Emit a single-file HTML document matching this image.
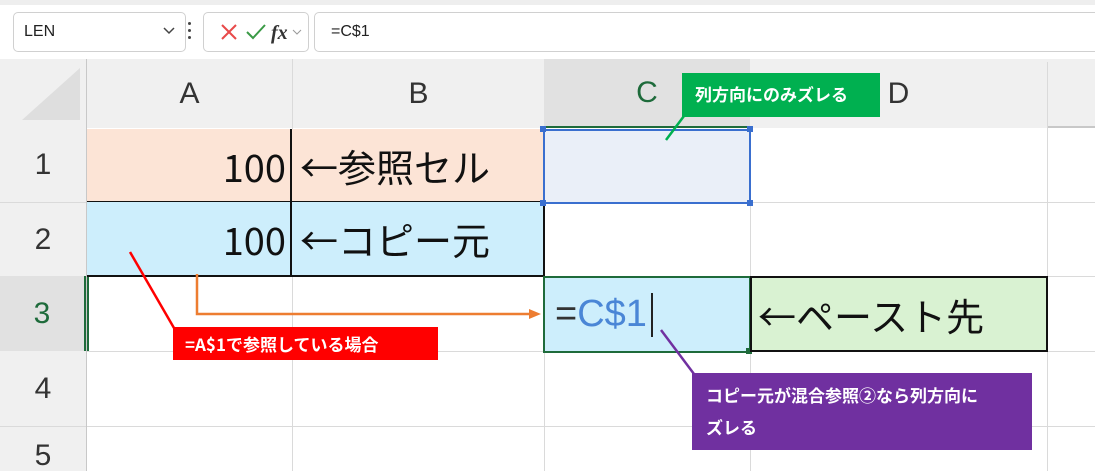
<!DOCTYPE html>
<html><head><meta charset="utf-8"><style>
*{margin:0;padding:0;box-sizing:border-box}
html,body{width:1095px;height:471px;overflow:hidden}
body{position:relative;background:#fff;font-family:"Liberation Sans","Noto Sans CJK JP",sans-serif}
.a{position:absolute}
.hd{background:#f0f0f0;color:#333;font-size:30px;display:flex;align-items:center;justify-content:center}
.ct{font-size:38px;color:#111;display:flex;align-items:center;font-family:"Noto Sans CJK JP",sans-serif;font-weight:400}
.vl{position:absolute;width:1px;background:#dadada}
.hl{position:absolute;height:1px;background:#dadada}
.lab{position:absolute;color:#fff;font-weight:bold;font-size:17px;font-family:"Noto Sans CJK JP",sans-serif}
</style></head><body>
<div class="a" style="left:0;top:0;width:1095px;height:5px;background:#eeeeee"></div>
<div class="a" style="left:13px;top:12px;width:173px;height:40px;border:1px solid #d0d0d0;border-radius:5px;font-size:16px;padding:10px 0 0 10px;color:#222">LEN</div>
<svg class="a" style="left:162px;top:26px" width="14" height="10"><polyline points="2,2 7,7 12,2" fill="none" stroke="#444" stroke-width="1.5"/></svg>
<div class="a" style="left:188px;top:22px;width:3px;height:3px;background:#444;border-radius:50%"></div>
<div class="a" style="left:188px;top:29px;width:3px;height:3px;background:#444;border-radius:50%"></div>
<div class="a" style="left:188px;top:36px;width:3px;height:3px;background:#444;border-radius:50%"></div>
<div class="a" style="left:203px;top:12px;width:106px;height:40px;border:1px solid #d0d0d0;border-radius:5px"></div>
<svg class="a" style="left:203px;top:12px" width="106" height="40">
<line x1="19" y1="13" x2="33" y2="27" stroke="#e84a4a" stroke-width="2"/>
<line x1="33" y1="13" x2="19" y2="27" stroke="#e84a4a" stroke-width="2"/>
<polyline points="44,20 50,26 62,13" fill="none" stroke="#3a9a46" stroke-width="2"/>
<text x="68" y="27" font-family="Liberation Serif" font-style="italic" font-weight="bold" font-size="20" fill="#333">fx</text>
<polyline points="90,18 94,22 98,18" fill="none" stroke="#999" stroke-width="1"/>
</svg>
<div class="a" style="left:314px;top:12px;width:790px;height:40px;border:1px solid #d0d0d0;border-radius:5px;font-size:16px;padding:10px 0 0 16px;color:#222">=C$1</div>
<div class="a" style="left:0;top:59px;width:1095px;height:69px;background:#f0f0f0;border-bottom:2px solid #c8c8c8"></div>
<div class="a" style="left:0;top:59px;width:87px;height:412px;background:#f0f0f0;border-right:1px solid #c8c8c8"></div>
<div class="a" style="left:22px;top:68px;width:0;height:0;border-left:58px solid transparent;border-bottom:52px solid #dedede"></div>
<div class="a hd" style="left:87px;top:59px;width:205px;height:69px">A</div>
<div class="a hd" style="left:292px;top:59px;width:252px;height:69px;border-left:1px solid #dadada">B</div>
<div class="a hd" style="left:544px;top:59px;width:206px;height:69px;background:#e1e1e1;color:#1e6b3b;border-bottom:2px solid #1e6b3b">C</div>
<div class="a hd" style="left:750px;top:59px;width:297px;height:69px">D</div>
<div class="vl" style="left:1047px;top:62px;height:409px"></div>
<div class="a hd" style="left:0;top:128px;width:86px;height:74px">1</div>
<div class="a hd" style="left:0;top:202px;width:86px;height:74px;border-top:1px solid #dadada">2</div>
<div class="a hd" style="left:0;top:276px;width:86px;height:75px;background:#e1e1e1;color:#1e6b3b;border-right:2px solid #1e6b3b">3</div>
<div class="a hd" style="left:0;top:351px;width:86px;height:75px">4</div>
<div class="a hd" style="left:0;top:426px;width:86px;height:45px;border-top:1px solid #dadada;align-items:flex-start;padding-top:12px">5</div>
<div class="vl" style="left:292px;top:128px;height:343px"></div>
<div class="vl" style="left:544px;top:128px;height:343px"></div>
<div class="vl" style="left:750px;top:128px;height:343px"></div>
<div class="hl" style="left:87px;top:202px;width:1008px"></div>
<div class="hl" style="left:87px;top:276px;width:1008px"></div>
<div class="hl" style="left:87px;top:351px;width:1008px"></div>
<div class="hl" style="left:87px;top:426px;width:1008px"></div>
<div class="a ct" style="left:87px;top:129px;width:205px;height:74px;background:#fce4d6;justify-content:flex-end;padding-right:6px;border-bottom:2px solid #111">100</div>
<div class="a ct" style="left:290px;top:129px;width:254px;height:74px;background:#fce4d6;border-left:2px solid #111;border-bottom:2px solid #111;padding-left:8px">←参照セル</div>
<div class="a ct" style="left:87px;top:202px;width:205px;height:75px;background:#cdeefc;justify-content:flex-end;padding-right:6px;border-bottom:2px solid #111">100</div>
<div class="a ct" style="left:290px;top:202px;width:255px;height:75px;background:#cdeefc;border-left:2px solid #111;border-right:2px solid #111;border-bottom:2px solid #111;padding-left:8px">←コピー元</div>
<div class="a" style="left:543px;top:129px;width:208px;height:75px;background:#eaeff8;border:2px solid #3a6fcf"></div>
<div class="a" style="left:540px;top:126px;width:6px;height:6px;background:#3a6fcf"></div>
<div class="a" style="left:747px;top:126px;width:6px;height:6px;background:#3a6fcf"></div>
<div class="a" style="left:540px;top:200px;width:6px;height:6px;background:#3a6fcf"></div>
<div class="a" style="left:747px;top:200px;width:6px;height:6px;background:#3a6fcf"></div>
<div class="a" style="left:87px;top:277px;width:2px;height:74px;background:#1e6b3b"></div>
<div class="a ct" style="left:543px;top:276px;width:208px;height:77px;background:#cdeefc;border:2px solid #1e6b3b;padding-left:10px;font-family:'Liberation Sans',sans-serif;font-weight:normal;font-size:38px"><span style="color:#333">=</span><span style="color:#4a86d6">C$1</span><span style="display:inline-block;width:2px;height:44px;background:#222;margin-left:4px"></span></div>
<div class="a" style="left:746px;top:348px;width:6px;height:6px;background:#1e6b3b"></div>
<div class="a ct" style="left:750px;top:276px;width:298px;height:76px;background:#d9f2d2;border:2px solid #111;padding-left:6px">←ペースト先</div>
<svg class="a" style="left:0;top:0" width="1095" height="471">
<line x1="130" y1="252" x2="174" y2="328" stroke="#ff0000" stroke-width="2.5"/>
<polyline points="197,274 197,314 530,314" fill="none" stroke="#ed7d31" stroke-width="2.5"/>
<polygon points="541,314 529,309 529,319" fill="#ed7d31"/>
<line x1="684" y1="116" x2="666" y2="140" stroke="#00b050" stroke-width="2.5"/>
<line x1="661" y1="330" x2="694" y2="374" stroke="#7030a0" stroke-width="2.5"/>
</svg>
<div class="lab" style="left:682px;top:73px;width:198px;height:44px;background:#00b050;padding:8px 0 0 13px">列方向にのみズレる</div>
<div class="lab" style="left:173px;top:327px;width:265px;height:33px;background:#ff0000;padding:4px 0 0 12px">=A$1で参照している場合</div>
<div class="lab" style="left:692px;top:373px;width:340px;height:77px;background:#7030a0;padding:6px 0 0 14px;line-height:32px">コピー元が混合参照②なら列方向に<br>ズレる</div>
</body></html>
